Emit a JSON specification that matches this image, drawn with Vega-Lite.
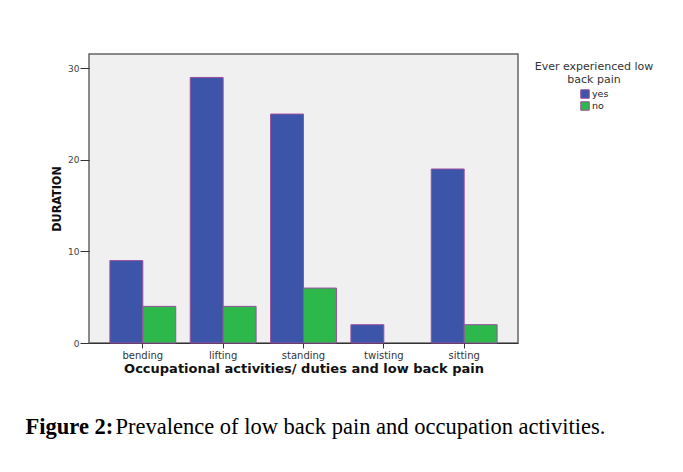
{
  "$schema": "https://vega.github.io/schema/vega-lite/v6.json",
  "width": 429,
  "height": 289,
  "autosize": "none",
  "padding": {"left": 89, "top": 54, "right": 165, "bottom": 129},
  "background": "white",
  "title": {
    "text": "Figure 2:",
    "subtitle": "\u200b\u00a0\u00a0\u00a0\u00a0\u00a0\u00a0\u00a0\u00a0\u00a0\u00a0\u00a0\u00a0\u00a0\u00a0\u00a0\u00a0Prevalence of low back pain and occupation activities.",
    "orient": "bottom",
    "anchor": "start",
    "frame": "bounds",
    "font": "Liberation Serif",
    "fontSize": 22.5,
    "fontWeight": "bold",
    "color": "#000000",
    "subtitleFont": "Liberation Serif",
    "subtitleFontSize": 22.5,
    "subtitleFontWeight": "normal",
    "subtitleColor": "#000000",
    "subtitlePadding": -22.5,
    "offset": 41,
    "dx": -25
  },
  "data": {
    "values": [
      {"activity": "bending", "pain": "yes", "duration": 9},
      {"activity": "bending", "pain": "no", "duration": 4},
      {"activity": "lifting", "pain": "yes", "duration": 29},
      {"activity": "lifting", "pain": "no", "duration": 4},
      {"activity": "standing", "pain": "yes", "duration": 25},
      {"activity": "standing", "pain": "no", "duration": 6},
      {"activity": "twisting", "pain": "yes", "duration": 2},
      {"activity": "sitting", "pain": "yes", "duration": 19},
      {"activity": "sitting", "pain": "no", "duration": 2}
    ]
  },
  "mark": {"type": "bar", "stroke": "#9b4fa0", "strokeWidth": 1},
  "encoding": {
    "x": {
      "field": "activity",
      "type": "nominal",
      "sort": ["bending", "lifting", "standing", "twisting", "sitting"],
      "scale": {"paddingInner": 0.18, "paddingOuter": 0.26},
      "axis": {
        "title": "Occupational activities/ duties and low back pain",
        "titleFont": "DejaVu Sans",
        "titleFontSize": 13,
        "titleFontWeight": "bold",
        "titleColor": "#111111",
        "titlePadding": 2,
        "labelAngle": 0,
        "labelFont": "DejaVu Sans",
        "labelFontSize": 10,
        "labelColor": "#333333",
        "labelPadding": 2,
        "tickSize": 5,
        "tickColor": "#333333",
        "domain": true,
        "domainColor": "#333333",
        "grid": false
      }
    },
    "xOffset": {
      "field": "pain",
      "type": "nominal",
      "sort": ["yes", "no"],
      "scale": {"domain": ["yes", "no"], "paddingInner": 0, "paddingOuter": 0}
    },
    "y": {
      "field": "duration",
      "type": "quantitative",
      "scale": {"domain": [0, 31.56], "nice": false},
      "axis": {
        "title": "DURATION",
        "titleFont": "DejaVu Sans Condensed, Liberation Sans",
        "titleFontSize": 12.5,
        "titleFontWeight": "bold",
        "titleColor": "#111111",
        "titlePadding": 4,
        "values": [0, 10, 20, 30],
        "tickSize": 9,
        "tickColor": "#333333",
        "domain": false,
        "grid": false,
        "labelFont": "DejaVu Sans",
        "labelFontSize": 9,
        "labelColor": "#444444",
        "labelPadding": 1
      }
    },
    "color": {
      "field": "pain",
      "type": "nominal",
      "sort": ["yes", "no"],
      "scale": {"domain": ["yes", "no"], "range": ["#3d55a8", "#2db84b"]},
      "legend": {
        "orient": "none",
        "legendX": 446,
        "legendY": 7,
        "title": ["Ever experienced low", "back pain"],
        "titleFont": "DejaVu Sans",
        "titleFontSize": 11,
        "titleFontWeight": "normal",
        "titleColor": "#333333",
        "titleAlign": "center",
        "titleAnchor": "middle",
        "titleLineHeight": 13,
        "titlePadding": 4,
        "labelFont": "DejaVu Sans",
        "labelFontSize": 9.5,
        "labelColor": "#222222",
        "symbolType": "square",
        "symbolSize": 72,
        "symbolStrokeColor": "#9b4fa0",
        "symbolStrokeWidth": 1,
        "symbolOffset": 0,
        "labelOffset": 2,
        "rowPadding": -3,
        "padding": 0
      }
    }
  },
  "config": {
    "view": {"fill": "#f0f0f0", "stroke": "#666666", "strokeWidth": 1.5}
  }
}
